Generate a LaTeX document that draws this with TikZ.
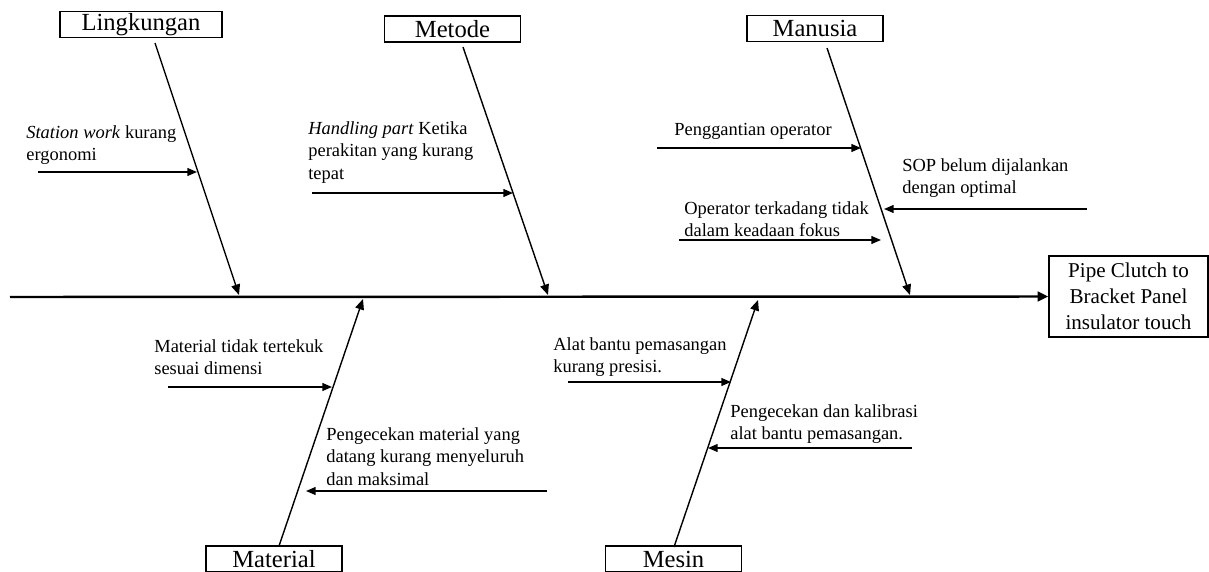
\documentclass[tikz,border=0pt]{standalone}
\usepackage{fontspec}
\setmainfont{Liberation Serif}
\usetikzlibrary{arrows.meta, positioning, calc}

\tikzset{
  catbox/.style={draw, line width=0.9pt, inner sep=0pt, minimum width=27.2mm,
    minimum height=5.2mm, font=\fontsize{14}{16}\selectfont},
  effbox/.style={draw, line width=0.9pt, inner sep=0pt, minimum width=31.8mm,
    minimum height=16.2mm, align=center, font=\fontsize{12}{14.8}\selectfont},
  causetxt/.style={anchor=north west, inner sep=0pt, align=left,
    font=\fontsize{10.5}{12.8}\selectfont},
  bone/.style={line width=0.8pt, -{Triangle[length=6pt, width=5pt]}},
  subarrow/.style={line width=0.8pt, -{Triangle[length=5.5pt, width=4.5pt]}},
  spine/.style={line width=1.4pt, -{Triangle[length=6pt, width=5.5pt]}},
}

\begin{document}
\begin{tikzpicture}[x=0.2mm, y=-0.2mm]
  \useasboundingbox (0,0) rectangle (1209,572);

  % kategori penyebab
  \node[catbox, minimum width=32.4mm] (lingkungan) at (141,24.5) {Lingkungan};
  \node[catbox] (metode) at (452.5,29) {Metode};
  \node[catbox] (manusia) at (815,28.5) {Manusia};
  \node[catbox] (material) at (274,559) {Material};
  \node[catbox] (mesin) at (673.5,559) {Mesin};

  % akibat
  \node[effbox] (akibat) at (1128.5,296.5) {Pipe Clutch to\\Bracket Panel\\insulator touch};

  % tulang utama
  \coordinate (spine-start) at (10,297);
  \draw[spine] (spine-start) -- (akibat.west);

  % tulang kategori
  \foreach \n/\xa/\ya/\xb/\yb in {lk/155/43/239/295, mt/463/47/548/295,
      mn/827/48/910/295, ml/279/546/363/299, ms/674/547/758/300} {
    \coordinate (\n-foot) at (\xa,\ya);
    \coordinate (\n-tip) at (\xb,\yb);
    \draw[bone] (\n-foot) -- (\n-tip);
  }

  % teks sub-penyebab
  \node[causetxt] (st) at (26,125) {\textit{Station work} kurang\\ergonomi};
  \node[causetxt] (hp) at (308,121) {\textit{Handling part} Ketika\\perakitan yang kurang\\tepat};
  \node[causetxt] (pg) at (674,123) {Penggantian operator};
  \node[causetxt] (sop) at (902,158) {SOP belum dijalankan\\dengan optimal};
  \node[causetxt] (op) at (684,201) {Operator terkadang tidak\\dalam keadaan fokus};
  \node[causetxt] (mtk) at (154,339) {Material tidak tertekuk\\sesuai dimensi};
  \node[causetxt] (pm) at (326,427) {Pengecekan material yang\\datang kurang menyeluruh\\dan maksimal};
  \node[causetxt] (ab) at (553,337) {Alat bantu pemasangan\\kurang presisi.};
  \node[causetxt] (pk) at (730,404) {Pengecekan dan kalibrasi\\alat bantu pemasangan.};

  % panah sub-penyebab
  \foreach \n/\xa/\xb/\y in {st/38/197/172, hp/312/513/193, pg/657/861/148,
      sop/1087/884/209, op/679/881/240, mtk/168/332/387, pm/547/306/491,
      ab/568/731/382, pk/912/708/448} {
    \coordinate (\n-a) at (\xa,\y);
    \coordinate (\n-b) at (\xb,\y);
    \draw[subarrow] (\n-a) -- (\n-b);
  }
\end{tikzpicture}
\end{document}
